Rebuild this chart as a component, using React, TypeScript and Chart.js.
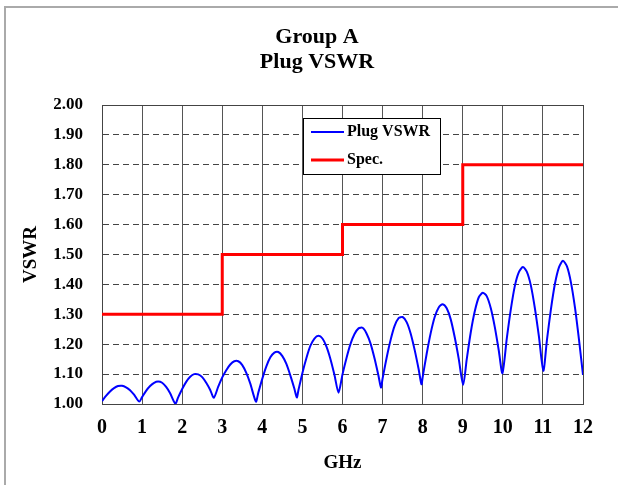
import React, { useEffect, useRef } from "react";
import { Chart, registerables } from "chart.js";

Chart.register(...registerables);

const FONT = '"Liberation Serif", "Times New Roman", serif';

// Plug VSWR measured curve (GHz, VSWR)
const freqGHz = [
  0, 0.1, 0.2, 0.3, 0.4, 0.5, 0.6, 0.7, 0.8, 0.93,
  1.0, 1.1, 1.2, 1.3, 1.4, 1.5, 1.6, 1.7, 1.83,
  1.9, 2.0, 2.1, 2.2, 2.3, 2.4, 2.5, 2.6, 2.7, 2.79,
  2.9, 3.0, 3.1, 3.2, 3.3, 3.4, 3.5, 3.6, 3.7, 3.84,
  3.9, 4.0, 4.1, 4.2, 4.3, 4.4, 4.5, 4.6, 4.7, 4.8, 4.86,
  4.9, 5.0, 5.1, 5.2, 5.3, 5.4, 5.5, 5.6, 5.7, 5.8, 5.9,
  6.0, 6.1, 6.2, 6.3, 6.4, 6.5, 6.6, 6.7, 6.8, 6.9, 6.96,
  7.0, 7.1, 7.2, 7.3, 7.4, 7.5, 7.6, 7.7, 7.8, 7.9, 7.97,
  8.0, 8.1, 8.2, 8.3, 8.4, 8.5, 8.6, 8.7, 8.8, 8.9, 9.01,
  9.1, 9.2, 9.3, 9.4, 9.5, 9.6, 9.7, 9.8, 9.9, 9.99,
  10.1, 10.2, 10.3, 10.4, 10.5, 10.6, 10.7, 10.8, 10.9, 11.01,
  11.1, 11.2, 11.3, 11.4, 11.5, 11.6, 11.7, 11.8, 11.9, 12.0,
];

const plugVswr = [
  1.010, 1.027, 1.042, 1.053, 1.060, 1.061, 1.056, 1.046, 1.031, 1.008,
  1.023, 1.044, 1.060, 1.071, 1.075, 1.071, 1.057, 1.036, 1.001,
  1.022, 1.050, 1.074, 1.091, 1.100, 1.099, 1.090, 1.071, 1.047, 1.021,
  1.058, 1.089, 1.113, 1.132, 1.143, 1.143, 1.130, 1.104, 1.068, 1.008,
  1.038, 1.085, 1.126, 1.156, 1.172, 1.174, 1.160, 1.134, 1.095, 1.051, 1.022,
  1.046, 1.104, 1.154, 1.195, 1.219, 1.228, 1.219, 1.192, 1.150, 1.097, 1.038,
  1.099, 1.154, 1.201, 1.234, 1.253, 1.255, 1.236, 1.202, 1.152, 1.093, 1.055,
  1.085, 1.154, 1.214, 1.261, 1.287, 1.291, 1.274, 1.236, 1.181, 1.116, 1.066,
  1.090, 1.168, 1.237, 1.291, 1.323, 1.334, 1.320, 1.283, 1.223, 1.151, 1.064,
  1.150, 1.240, 1.310, 1.357, 1.372, 1.360, 1.320, 1.257, 1.178, 1.103,
  1.220, 1.317, 1.395, 1.441, 1.458, 1.442, 1.396, 1.320, 1.226, 1.111,
  1.214, 1.317, 1.402, 1.457, 1.479, 1.460, 1.406, 1.322, 1.215, 1.097,
];

// Spec limit steps (GHz, VSWR)
const specFreq = [0, 3, 6, 9, 12];
const specLimit = [1.3, 1.5, 1.6, 1.8, 1.8];

const titleLines = ["Group A", "Plug VSWR"];
const seriesNames = ["Plug VSWR", "Spec."];
const xTitle = "GHz";
const yTitle = "VSWR";

const framePlugin = {
  id: "frame",
  beforeDraw(chart: any) {
    const { ctx } = chart;
    ctx.save();
    ctx.strokeStyle = "#aaaaaa";
    ctx.lineWidth = 2;
    ctx.beginPath();
    ctx.moveTo(5, chart.height);
    ctx.lineTo(5, 7);
    ctx.lineTo(chart.width, 7);
    ctx.stroke();
    ctx.restore();
  },
};

const boxPlugin = {
  id: "plotBox",
  beforeDatasetsDraw(chart: any) {
    const { ctx, chartArea: a } = chart;
    ctx.save();
    ctx.strokeStyle = "#444444";
    ctx.lineWidth = 1;
    ctx.setLineDash([]);
    ctx.strokeRect(Math.round(a.left) + 0.5, Math.round(a.top) + 0.5, Math.round(a.right - a.left), Math.round(a.bottom - a.top));
    ctx.restore();
  },
};

const floatLegendPlugin = {
  id: "floatLegend",
  afterDraw(chart: any) {
    const { ctx, chartArea: a } = chart;
    const x = a.left + 201;
    const y = a.top + 13;
    const w = 137;
    const h = 56;
    ctx.save();
    ctx.fillStyle = "#ffffff";
    ctx.fillRect(x, y, w, h);
    ctx.strokeStyle = "#000000";
    ctx.lineWidth = 1;
    ctx.setLineDash([]);
    ctx.strokeRect(x + 0.5, y + 0.5, w, h);
    ctx.font = `bold 16px ${FONT}`;
    ctx.textBaseline = "middle";
    ctx.textAlign = "left";
    chart.data.datasets.forEach((ds: any, i: number) => {
      const ly = y + 14 + i * 28;
      ctx.strokeStyle = ds.borderColor;
      ctx.lineWidth = ds.borderWidth;
      ctx.beginPath();
      ctx.moveTo(x + 8, ly);
      ctx.lineTo(x + 41, ly);
      ctx.stroke();
      ctx.fillStyle = "#000000";
      ctx.fillText(ds.label, x + 44, ly);
    });
    ctx.restore();
  },
};

export default function App() {
  const ref = useRef<HTMLCanvasElement>(null);

  useEffect(() => {
    const chart = new Chart(ref.current as HTMLCanvasElement, {
      type: "line",
      data: {
        datasets: [
          {
            label: seriesNames[0],
            data: freqGHz.map((x, i) => ({ x, y: plugVswr[i] })),
            borderColor: "#0000ff",
            borderWidth: 2,
            pointRadius: 0,
            tension: 0.25,
            fill: false,
          },
          {
            label: seriesNames[1],
            data: specFreq.map((x, i) => ({ x, y: specLimit[i] })),
            borderColor: "#ff0000",
            borderWidth: 3,
            pointRadius: 0,
            stepped: "before",
            fill: false,
          },
        ],
      },
      options: {
        animation: false,
        responsive: true,
        maintainAspectRatio: false,
        layout: { padding: { left: 0, right: 0, top: 0, bottom: 0 } },
        plugins: {
          legend: { display: false },
          tooltip: { enabled: false },
          title: {
            display: true,
            text: titleLines,
            color: "#000000",
            font: { family: FONT, size: 22, weight: "bold", lineHeight: 25 / 22 },
            padding: { top: 25, bottom: 30 },
          },
        },
        scales: {
          x: {
            type: "linear",
            min: 0,
            max: 12,
            ticks: {
              stepSize: 1,
              autoSkip: false,
              maxRotation: 0,
              color: "#000000",
              padding: 12,
              font: { family: FONT, size: 20, weight: "bold" },
            },
            grid: { color: "#555555", lineWidth: 1, drawTicks: false },
            border: { display: true, color: "#444444", width: 1 },
            title: {
              display: true,
              text: xTitle,
              color: "#000000",
              font: { family: FONT, size: 19, weight: "bold" },
              padding: { top: 0, bottom: 11 },
            },
            afterFit(scale: any) {
              scale.height = 81;
            },
          },
          y: {
            type: "linear",
            min: 1,
            max: 2,
            ticks: {
              stepSize: 0.1,
              color: "#000000",
              padding: 19,
              font: { family: FONT, size: 17, weight: "bold" },
              callback: (v: any) => Number(v).toFixed(2),
            },
            grid: { color: "#444444", lineWidth: 1, drawTicks: false },
            border: { display: true, color: "#444444", width: 1, dash: [6, 4] },
            title: {
              display: true,
              text: yTitle,
              color: "#000000",
              font: { family: FONT, size: 19, weight: "bold" },
              padding: { top: 20, bottom: 0 },
            },
            afterFit(scale: any) {
              scale.width = 102;
            },
          },
          yRight: {
            type: "linear",
            position: "right",
            min: 1,
            max: 2,
            display: true,
            ticks: { display: false },
            grid: { display: false, drawTicks: false },
            border: { display: false },
            afterFit(scale: any) {
              scale.width = 51;
            },
          },
        },
      },
      plugins: [framePlugin, boxPlugin, floatLegendPlugin],
    } as any);
    return () => chart.destroy();
  }, []);

  return (
    <div
      style={{
        position: "fixed",
        left: 0,
        top: 0,
        width: 618,
        height: 485,
        overflow: "hidden",
        background: "#ffffff",
      }}
    >
      <div style={{ position: "relative", width: 634, height: 485 }}>
        <canvas ref={ref} />
      </div>
    </div>
  );
}
